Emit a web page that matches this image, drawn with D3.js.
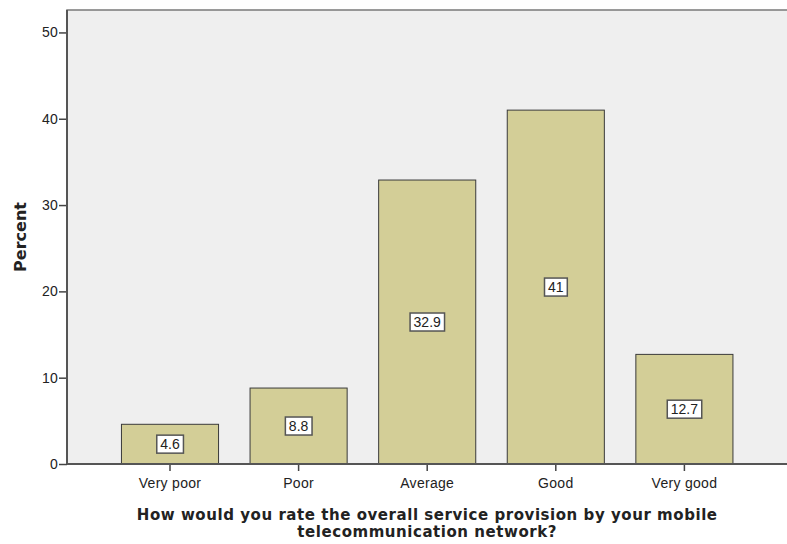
<!DOCTYPE html>
<html>
<head>
<meta charset="utf-8">
<script src="https://cdn.jsdelivr.net/npm/d3@7"></script>
<style>
  html, body { margin: 0; padding: 0; background: #ffffff; }
  svg { display: block; }
  text { font-family: "Liberation Sans", Arial, sans-serif; fill: #222; }
</style>
</head>
<body>
<svg id="chart" width="787" height="544"></svg>
<script>
// Survey responses, percent of respondents
const categories = ["Very poor", "Poor", "Average", "Good", "Very good"];
const percents = [4.6, 8.8, 32.9, 41, 12.7];
const yTicks = [0, 10, 20, 30, 40, 50];
const yMax = 52.6;
const xTitleLines = [
  "How would you rate the overall service provision by your mobile",
  "telecommunication network?"
];
const yTitle = "Percent";

const FONT = "Liberation Sans, Arial, sans-serif";
const TITLE_FONT = "DejaVu Sans, sans-serif";
const svg = d3.select("#chart");
const plot = { left: 67, top: 10, right: 800, bottom: 464 };

const x = d3.scaleBand()
  .domain(categories)
  .range([105.7, 748.7])
  .paddingInner(0.245)
  .paddingOuter(0.1225);

const y = d3.scaleLinear()
  .domain([0, yMax])
  .range([plot.bottom, plot.top]);

// Plot background and frame
svg.append("rect")
  .attr("x", plot.left).attr("y", plot.top)
  .attr("width", plot.right - plot.left).attr("height", plot.bottom - plot.top)
  .attr("fill", "#efefef")
  .attr("stroke", "#7a7a7a").attr("stroke-width", 1.5);

// Bars
svg.append("g").selectAll("rect")
  .data(categories)
  .join("rect")
  .attr("x", d => x(d))
  .attr("y", (d, i) => y(percents[i]))
  .attr("width", x.bandwidth())
  .attr("height", (d, i) => y(0) - y(percents[i]))
  .attr("fill", "#d3ce97")
  .attr("stroke", "#3a3a3a")
  .attr("stroke-width", 1);

// Y axis
const yAxis = svg.append("g")
  .attr("transform", `translate(${plot.left},0)`)
  .call(d3.axisLeft(y).tickValues(yTicks).tickSize(8).tickPadding(1).tickFormat(d3.format("d")));
yAxis.select(".domain").remove();
yAxis.selectAll(".tick line").attr("stroke", "#444").attr("stroke-width", 1.5);
yAxis.selectAll(".tick text").attr("font-size", 14).attr("fill", "#222")
  .style("font-family", FONT).style("letter-spacing", "0.2px");
svg.append("line")
  .attr("x1", plot.left).attr("x2", plot.left)
  .attr("y1", plot.top).attr("y2", plot.bottom)
  .attr("stroke", "#555").attr("stroke-width", 2);

// X axis
const xAxis = svg.append("g")
  .attr("transform", `translate(0,${plot.bottom})`)
  .call(d3.axisBottom(x).tickSize(7).tickPadding(7));
xAxis.select(".domain").remove();
xAxis.selectAll(".tick line").attr("stroke", "#444").attr("stroke-width", 1.5);
xAxis.selectAll(".tick text").attr("font-size", 14).attr("fill", "#222")
  .style("font-family", FONT).style("letter-spacing", "0.3px");
svg.append("line")
  .attr("x1", plot.left).attr("x2", plot.right)
  .attr("y1", plot.bottom).attr("y2", plot.bottom)
  .attr("stroke", "#555").attr("stroke-width", 2);

// Value labels in white boxes at the middle of each bar
const labels = svg.append("g").selectAll("g")
  .data(categories)
  .join("g")
  .attr("transform", (d, i) =>
    `translate(${x(d) + x.bandwidth() / 2},${(y(0) + y(percents[i])) / 2})`);

labels.append("text")
  .attr("text-anchor", "middle")
  .attr("dy", "0.36em")
  .attr("font-size", 14)
  .text((d, i) => d3.format("~g")(percents[i]));

labels.each(function () {
  const g = d3.select(this);
  const bb = g.select("text").node().getBBox();
  g.insert("rect", "text")
    .attr("x", bb.x - 3.5).attr("y", -9)
    .attr("width", bb.width + 7).attr("height", 18)
    .attr("fill", "#ffffff")
    .attr("stroke", "#555").attr("stroke-width", 1.5);
});

// Axis titles
const xCenter = (x(categories[0]) + x(categories[categories.length - 1]) + x.bandwidth()) / 2;
svg.append("text")
  .attr("text-anchor", "middle")
  .attr("font-size", 15).attr("font-weight", "bold").attr("fill", "#111")
  .style("font-family", TITLE_FONT).style("letter-spacing", "0.55px")
  .selectAll("tspan")
  .data(xTitleLines)
  .join("tspan")
  .attr("x", xCenter)
  .attr("y", (d, i) => 519.5 + i * 17.5)
  .text(d => d);

svg.append("text")
  .attr("transform", `translate(26,${(plot.top + plot.bottom) / 2}) rotate(-90)`)
  .attr("text-anchor", "middle")
  .attr("font-size", 16).attr("font-weight", "bold").attr("fill", "#111")
  .style("font-family", TITLE_FONT)
  .text(yTitle);
</script>
</body>
</html>
